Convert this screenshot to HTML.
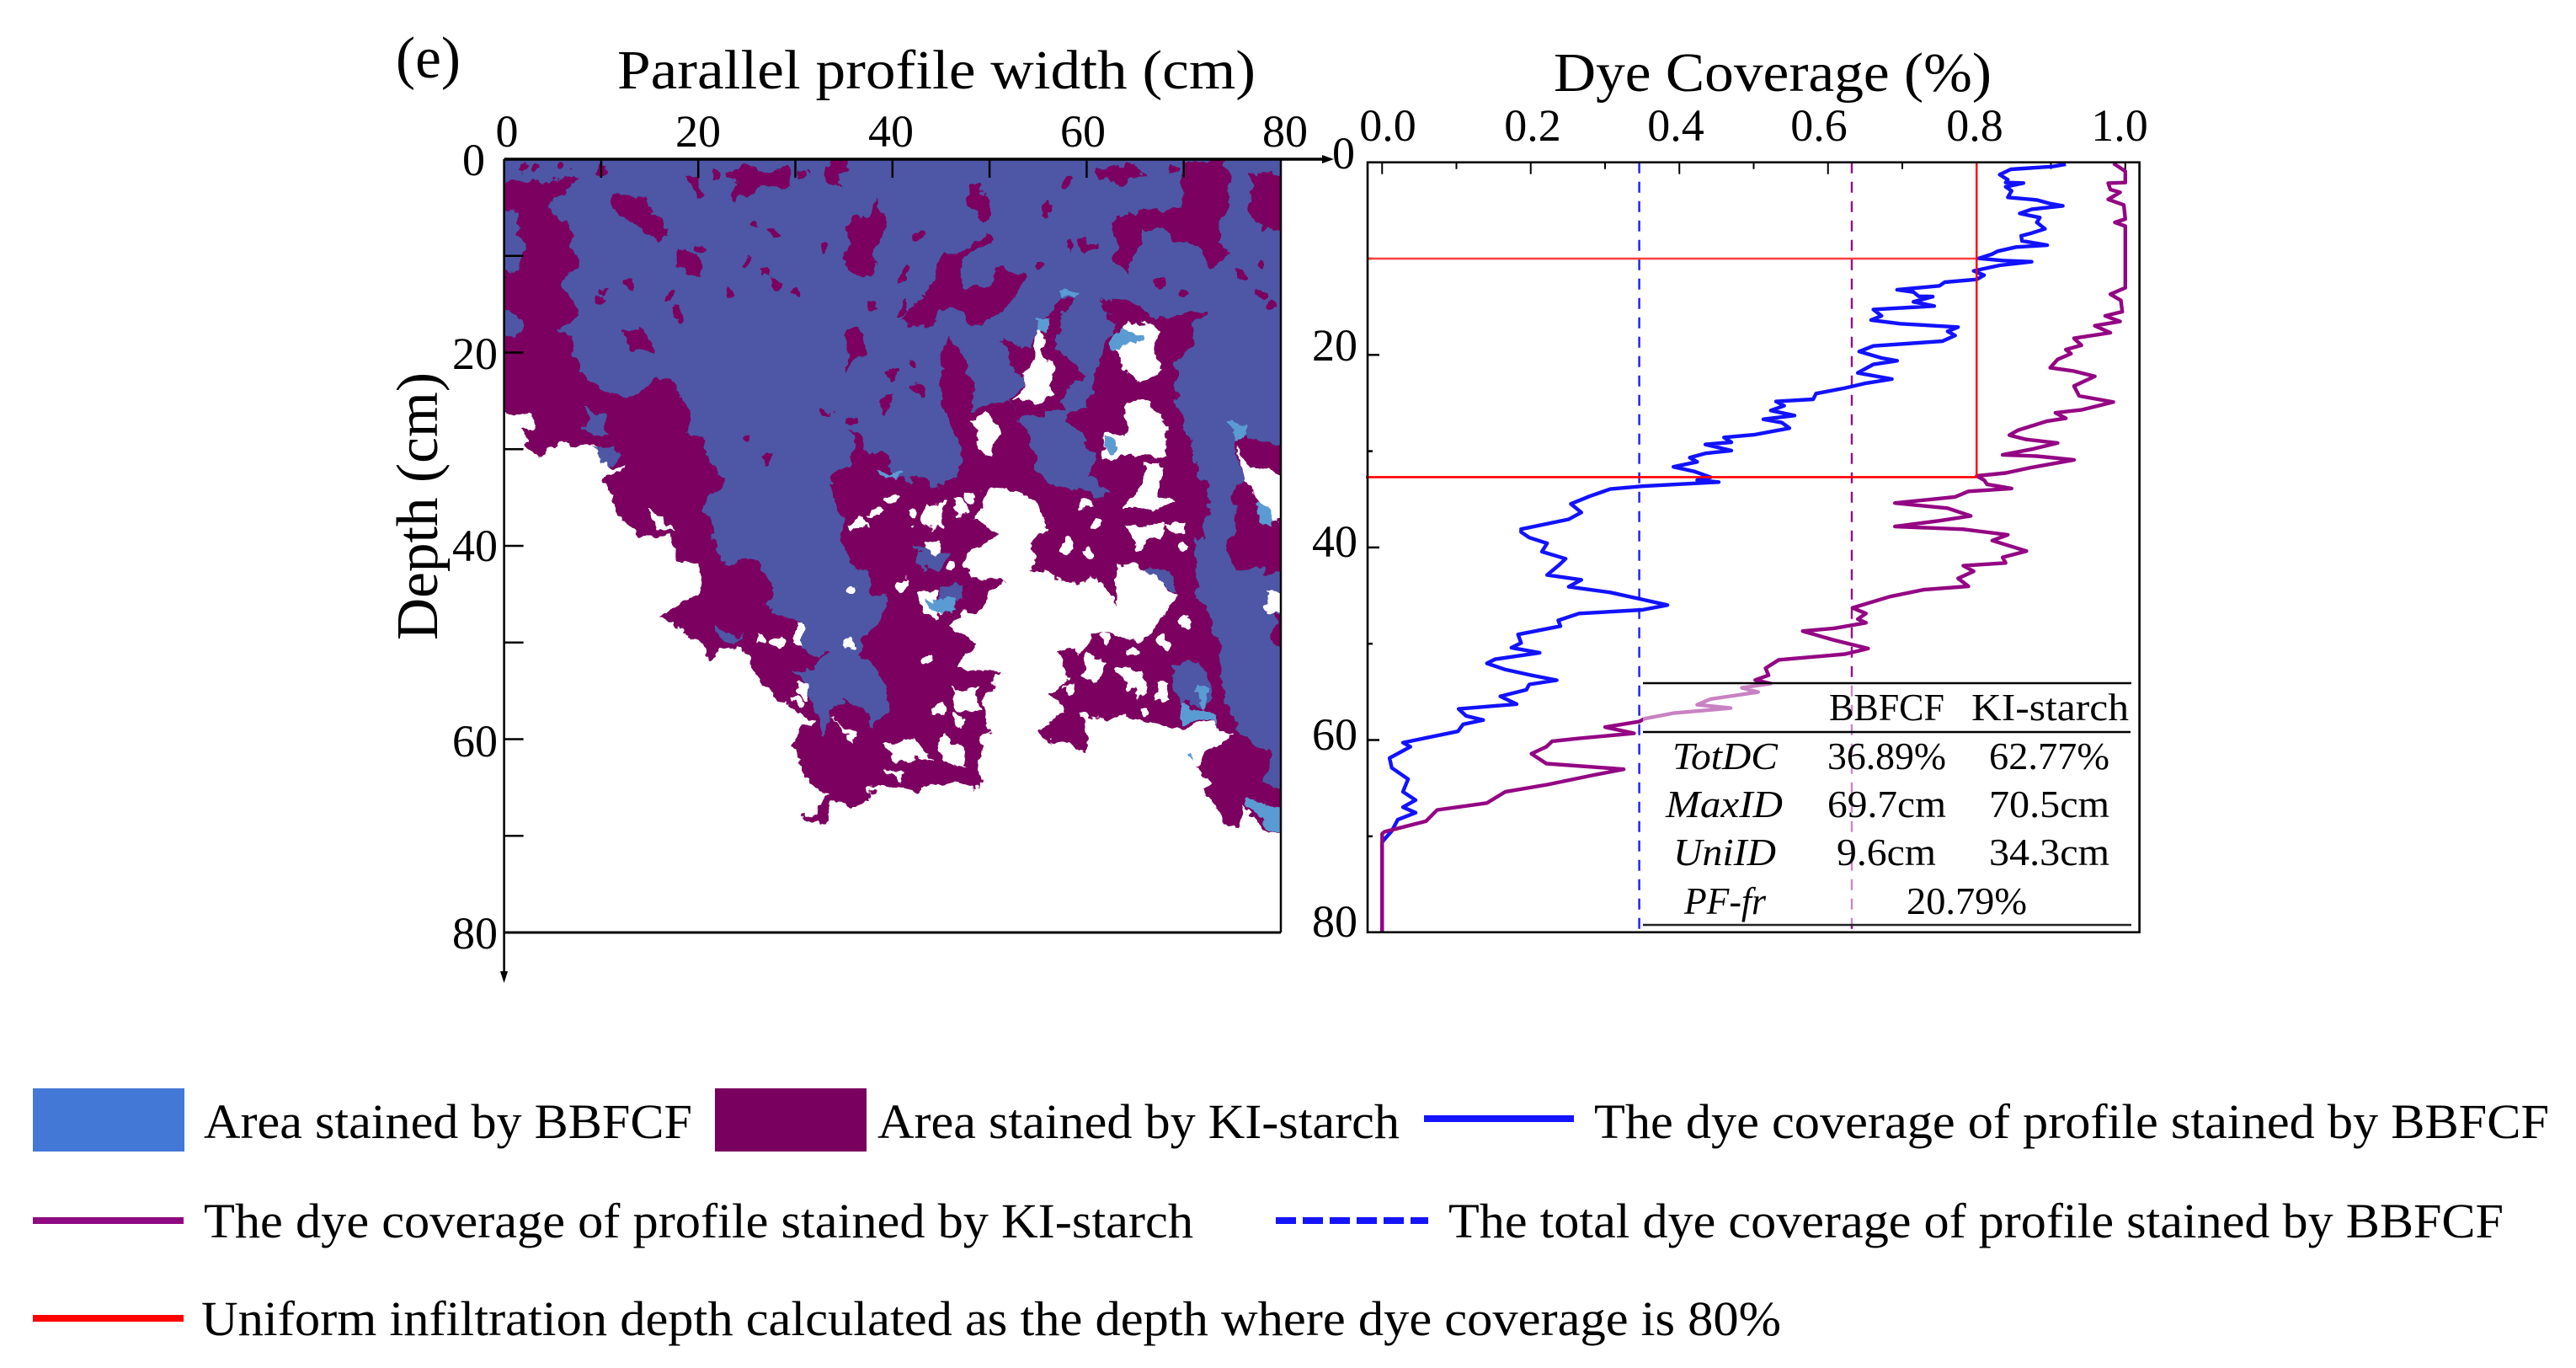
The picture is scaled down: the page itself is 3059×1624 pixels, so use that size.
<!DOCTYPE html>
<html>
<head>
<meta charset="utf-8">
<title>Dye coverage profile (e)</title>
<style>
html,body{margin:0;padding:0;background:#fff;width:3059px;height:1624px;overflow:hidden}
svg{display:block}
text{font-family:"Liberation Serif",serif;fill:#000}
.tick{font-size:54px}
.tbl{font-size:46px}
.lg{font-size:58px}
</style>
</head>
<body>
<svg id="fig" xmlns="http://www.w3.org/2000/svg" width="3059" height="1624" viewBox="0 0 3059 1624">
<rect x="0" y="0" width="3059" height="1624" fill="#fff"/>
<defs>
<clipPath id="mapClip"><rect x="598.6" y="189" width="922.4" height="918"/></clipPath>
<filter id="rough" filterUnits="userSpaceOnUse" x="560" y="150" width="1000" height="1000" color-interpolation-filters="sRGB">
<feTurbulence type="fractalNoise" baseFrequency="0.04" numOctaves="4" seed="7" result="n"/>
<feDisplacementMap in="SourceGraphic" in2="n" scale="26" xChannelSelector="R" yChannelSelector="G"/>
</filter>
</defs>
<g clip-path="url(#mapClip)"><g id="mapLayer" filter="url(#rough)"></g></g>
<g id="mapAxes"></g>
<g id="profile"></g>

<text x="470" y="92" font-size="70" textLength="77" lengthAdjust="spacingAndGlyphs">(e)</text>
<text x="733" y="105" font-size="66" textLength="758" lengthAdjust="spacingAndGlyphs">Parallel profile width (cm)</text>
<text x="1845" y="108" font-size="66" textLength="520" lengthAdjust="spacingAndGlyphs">Dye Coverage (%)</text>
<text transform="translate(519,760) rotate(-90)" font-size="70" textLength="318" lengthAdjust="spacingAndGlyphs">Depth (cm)</text>

<g class="tick" text-anchor="middle">
<text x="602" y="174">0</text>
<text x="829" y="174">20</text>
<text x="1058" y="174">40</text>
<text x="1286" y="174">60</text>
<text x="1526" y="174">80</text>
</g>
<g class="tick" text-anchor="end">
<text x="576" y="208">0</text>
<text x="591" y="438">20</text>
<text x="591" y="666">40</text>
<text x="591" y="898">60</text>
<text x="591" y="1126">80</text>
</g>
<g class="tick" text-anchor="middle">
<text x="1648" y="167">0.0</text>
<text x="1820" y="167">0.2</text>
<text x="1990" y="167">0.4</text>
<text x="2160" y="167">0.6</text>
<text x="2345" y="167">0.8</text>
<text x="2517" y="167">1.0</text>
</g>
<g class="tick" text-anchor="end">
<text x="1609" y="200">0</text>
<text x="1612" y="428">20</text>
<text x="1612" y="661">40</text>
<text x="1612" y="890">60</text>
<text x="1612" y="1112">80</text>
</g>

<g>
<rect x="1951" y="811" width="580" height="287" fill="#fff" fill-opacity="0.5"/>
<line x1="1951" x2="2531" y1="811" y2="811" stroke="#000" stroke-width="2.5"/>
<line x1="1951" x2="2530" y1="869" y2="869" stroke="#000" stroke-width="2.5"/>
<line x1="1951" x2="2531" y1="1098" y2="1098" stroke="#222" stroke-width="2.5"/>
<g class="tbl">
<text x="2172" y="855" textLength="137" lengthAdjust="spacingAndGlyphs">BBFCF</text>
<text x="2341" y="855" textLength="187" lengthAdjust="spacingAndGlyphs">KI-starch</text>
<text x="1986" y="913" font-style="italic" textLength="125" lengthAdjust="spacingAndGlyphs">TotDC</text>
<text x="2170" y="913" textLength="141" lengthAdjust="spacingAndGlyphs">36.89%</text>
<text x="2362" y="913" textLength="143" lengthAdjust="spacingAndGlyphs">62.77%</text>
<text x="1978" y="970" font-style="italic" textLength="139" lengthAdjust="spacingAndGlyphs">MaxID</text>
<text x="2170" y="970" textLength="141" lengthAdjust="spacingAndGlyphs">69.7cm</text>
<text x="2362" y="970" textLength="143" lengthAdjust="spacingAndGlyphs">70.5cm</text>
<text x="1987" y="1027" font-style="italic" textLength="122" lengthAdjust="spacingAndGlyphs">UniID</text>
<text x="2181" y="1027" textLength="118" lengthAdjust="spacingAndGlyphs">9.6cm</text>
<text x="2362" y="1027" textLength="143" lengthAdjust="spacingAndGlyphs">34.3cm</text>
<text x="2000" y="1085" font-style="italic" textLength="97" lengthAdjust="spacingAndGlyphs">PF-fr</text>
<text x="2264" y="1085" textLength="143" lengthAdjust="spacingAndGlyphs">20.79%</text>
</g>
</g>

<g>
<rect x="39" y="1292" width="180" height="75" fill="#4478d6"/>
<text class="lg" x="242" y="1351" textLength="580" lengthAdjust="spacingAndGlyphs">Area stained by BBFCF</text>
<rect x="849" y="1292" width="180" height="75" fill="#7a0060"/>
<text class="lg" x="1042" y="1351" textLength="620" lengthAdjust="spacingAndGlyphs">Area stained by KI-starch</text>
<line x1="1691" x2="1869" y1="1328" y2="1328" stroke="#1414ff" stroke-width="8"/>
<text class="lg" x="1893" y="1351" textLength="1134" lengthAdjust="spacingAndGlyphs">The dye coverage of profile stained by BBFCF</text>
<line x1="39" x2="218" y1="1449" y2="1449" stroke="#8f0a82" stroke-width="8"/>
<text class="lg" x="242" y="1469" textLength="1175" lengthAdjust="spacingAndGlyphs">The dye coverage of profile stained by KI-starch</text>
<line x1="1515" x2="1696" y1="1449" y2="1449" stroke="#1414ff" stroke-width="8" stroke-dasharray="24 8"/>
<text class="lg" x="1720" y="1469" textLength="1253" lengthAdjust="spacingAndGlyphs">The total dye coverage of profile stained by BBFCF</text>
<line x1="39" x2="218" y1="1565" y2="1565" stroke="#ff0000" stroke-width="8"/>
<text class="lg" x="239" y="1585" textLength="1876" lengthAdjust="spacingAndGlyphs">Uniform infiltration depth calculated as the depth where dye coverage is 80%</text>
</g>
</svg>

<script>
// ----- Coverage profile data (depth in cm, coverage as fraction) -----
const bbfcfDepth = [0.2,0.44,0.73,1.28,1.81,2.1,2.15,2.54,2.97,3.64,3.91,4.29,4.52,4.87,5.31,5.74,6.24,6.91,7.35,7.64,8.16,8.6,8.8,9.24,9.53,9.97,10.2,10.32,10.7,11.28,11.72,12.16,12.45,12.83,13.24,13.47,13.91,13.95,14.49,14.93,15.28,15.95,16.38,16.76,17.11,17.55,17.99,18.57,19.07,19.65,20.32,20.61,20.99,21.87,22.51,22.94,23.44,24.02,24.61,24.84,25.28,25.77,26.3,26.68,27.03,27.61,28.28,28.57,29.07,29.3,29.94,30.23,30.67,31.11,31.63,32.13,32.71,33.0,33.21,33.64,33.94,34.69,35.48,36.36,37.08,38.1,38.4,38.98,39.57,40.44,41.17,41.9,42.86,43.36,44.09,44.67,45.4,45.98,46.48,46.86,47.58,48.17,49.04,49.92,50.41,50.94,51.61,52.04,52.69,53.27,53.79,54.23,54.79,55.46,56.27,56.77,57.5,57.93,58.37,59.1,60.27,60.7,61.87,62.89,64.06,65.37,66.24,66.97,67.55,68.28,69.45,70.32,70.6,80];
const bbfcfCover = [.920,.902,.846,.831,.842,.839,.863,.839,.847,.842,.881,.899,.916,.874,.858,.885,.881,.892,.874,.860,.861,.895,.853,.828,.821,.803,.835,.874,.831,.796,.810,.800,.757,.750,.693,.715,.722,.741,.715,.743,.661,.672,.658,.697,.775,.761,.771,.754,.661,.642,.672,.693,.661,.640,.686,.651,.623,.584,.580,.530,.541,.523,.555,.513,.538,.548,.502,.460,.470,.435,.470,.435,.414,.424,.392,.421,.442,.424,.453,.350,.307,.279,.254,.268,.251,.187,.187,.198,.222,.215,.247,.237,.222,.268,.251,.307,.350,.384,.350,.265,.237,.240,.183,.187,.174,.212,.152,.141,.166,.201,.235,.198,.194,.159,.181,.103,.113,.136,.109,.102,.028,.038,.010,.013,.035,.028,.045,.028,.045,.021,.013,.003,0,0];
const kiDepth = [0.1,0.93,2.1,2.16,2.83,3.12,3.85,4.43,5.89,6.24,6.62,13.03,13.7,14.34,15.51,15.95,16.53,16.97,17.7,18.28,19.0,19.45,19.88,20.47,21.34,21.69,22.22,23.24,24.26,24.9,25.71,26.01,26.59,26.88,27.81,28.34,28.78,29.15,29.8,30.38,30.52,30.9,31.69,32.27,32.57,33.0,33.44,33.88,34.17,34.75,35.39,35.92,36.73,37.23,37.82,38.11,38.69,39.28,40.38,41.02,41.61,41.9,42.48,43.21,44.03,44.38,45.11,46.27,46.86,47.44,47.82,48.4,48.69,49.62,50.5,51.08,51.67,52.54,53.27,53.77,54.14,54.58,55.02,55.75,56.33,56.68,57.21,57.79,58.08,58.66,59.3,59.83,60.12,60.7,61.43,62.45,63.04,63.62,64.64,65.37,66.54,67.26,68.43,69.54,69.74,80];
const kiCover = [.984,1,1,.977,.980,.993,.977,.998,1,.986,1,1,.980,.994,.996,.973,.993,.959,.980,.931,.941,.920,.927,.909,.899,.931,.959,.931,.938,.984,.941,.906,.920,.895,.856,.844,.867,.909,.874,.835,.881,.931,.874,.839,.800,.810,.814,.847,.789,.771,.690,.761,.792,.750,.690,.782,.842,.821,.867,.835,.839,.782,.796,.775,.789,.729,.683,.633,.651,.640,.651,.608,.566,.608,.654,.623,.534,.516,.520,.502,.523,.484,.506,.442,.424,.469,.392,.353,.346,.300,.339,.265,.229,.221,.201,.221,.325,.286,.222,.166,.141,.074,.059,.003,0,0];
const totalCoverBBFCF = [0.346];
const totalCoverKI = [0.632];
const uniformCover = [0.8];
const uniformDepthBBFCF = [10];
const uniformDepthKI = [32.7];

// ----- Stain map regions: [width cm, depth cm] outlines -----
const stainExtent = [[0,0],[80,0],[80,70],[78.9,70.1],[76.1,66.8],[75.5,69.5],[74.2,68.8],[73.6,66.8],[72.1,65.5],[73,64.5],[71.1,62.8],[75.5,59.8],[74.2,58.5],[69.3,58.5],[64.3,58],[59.4,57.5],[60,60.8],[57.2,60.8],[55.3,58.8],[57.5,57.1],[56,55.5],[58.4,53.5],[57.2,51.1],[60,50.5],[60.3,49.1],[64.9,49.8],[68,47.5],[68.7,45.5],[66.2,42.1],[63.1,41.8],[63.1,46.1],[61.2,43.5],[58.7,43.5],[54.4,42.8],[54.1,40.5],[55.3,38.5],[56.3,38],[53.8,34],[50,34],[48.2,37.2],[51,38.8],[48.2,40.5],[47.6,43],[51.3,43.5],[49.4,45.5],[45.7,48.5],[48.2,50.5],[46.9,52.8],[51.6,52.8],[49.4,55.5],[49.8,59.1],[48.8,62.5],[48.8,65.1],[45.1,64.8],[40.1,65.1],[38,64.8],[37.4,66.8],[34,66.6],[33.6,69.1],[30.9,68],[33.3,66.1],[31.5,64.8],[30.5,62.8],[29.9,60.1],[31.8,57.8],[28.4,56.5],[25.9,53.5],[24.7,50.5],[21.2,51.3],[20.6,49.8],[16,47.5],[16.3,46.6],[20.3,45.5],[20.3,42.1],[17.8,41.5],[17.2,39.1],[13.5,38.8],[11.6,36.1],[10.1,33.5],[12.9,31.8],[11,31.8],[9.2,29.5],[6.7,29.3],[3.6,30.6],[1.7,28.5],[3.3,27.6],[2.7,26.1],[0,25.7]];

const bothDyesMain = [[0,0],[80,0],[80,66],[78,64.5],[79.2,61.5],[75.5,59.1],[74.2,56.5],[73.6,49.8],[71.1,44.1],[71.1,39.1],[71.1,38.4],[62.5,34.6],[56.9,34.2],[54.4,31.9],[51.3,32.7],[46.7,33.5],[40.1,33.1],[39.5,30.8],[35.8,28.5],[35.2,32.3],[33.6,33.5],[34.3,36.5],[34.9,37.8],[35.2,40.1],[37.7,44.1],[39.8,45.8],[37.7,48.5],[36.4,51.5],[39.5,54.8],[39.5,57.1],[38,58.8],[37.4,57.1],[35.2,55.8],[32.7,59.8],[32.1,55.8],[29.9,53.1],[33.3,51.5],[30.9,50.8],[30.9,48.8],[26.8,46.1],[27.4,43.8],[26.5,41.5],[22.2,41.5],[21.6,38.8],[20.6,36.1],[22.5,33.8],[21.6,31.6],[18.8,27.8],[18.8,25.5],[17.2,22.9],[15.4,22.7],[12.6,24.8],[8.6,22.9],[6.7,20.2],[7.3,18.7],[5.5,17.2],[7.9,16.1],[6.1,13],[7.3,10],[7.3,7.8],[4.8,5.5],[4.8,4],[7.9,2.3],[4.8,2.1],[0,2.8]];

const bothDyesPatches = [
 [[0,5],[1.5,5.5],[2,9],[1.5,11.5],[0,11]],
 [[0,15],[1.5,16],[1.2,18],[0,18.5]],
 [[42.7,40],[45.8,40.5],[44.5,42],[43,42.5]],
 [[45,44],[46.5,44],[47.5,46],[45.5,47]],
 [[8.2,25.9],[10,26.5],[11.3,28.5],[9.5,28.5]],
 [[8.9,29.7],[11.6,30],[11,31.8],[10,31.5]],
 [[21.6,48],[24.7,49.5],[24,50.5],[22,49.5]],
 [[69,52],[72,52],[73,56],[69.3,56.5]],
 [[66.2,42],[69,43],[68.7,45],[67,44]],
 [[71.1,39],[74,40],[76,44],[74,45],[72,44]],
 [[76.5,43],[78.5,42],[79,46],[77,46]]
];

const kiOnlyPatches = [
 [[70,.2],[74.2,.2],[74.5,4],[73.5,7],[74,9],[74.5,10],[73,11],[72,9.5],[69,8.5],[68,7],[66,7.2],[65,10],[64.5,12],[63,10],[62.5,6.5],[65,5.5],[68,5],[70,5]],
 [[77,1.5],[80,1],[80,7],[78,7.5],[77,5]],
 [[38.3,3.6],[39.2,7],[38.3,10.8],[37.7,12.3],[35.8,11.9],[34.9,10],[35.5,7],[37.1,5.9]],
 [[51.3,11.2],[53.8,12.3],[52.9,14.6],[50.7,16.1],[48.8,17.2],[45.1,15.3],[43.9,17.2],[42,17.6],[41.1,16.4],[43.9,13.4],[45.1,10],[48.2,8.9],[49.4,7.4],[50,8.5],[46.9,10.8],[47.3,13.4],[49.4,13.4]],
 [[46,18],[47.3,21],[48.2,23.6],[48.2,26.3],[51.9,25.1],[53.8,28.2],[55,31.9],[56.9,34.2],[51.3,34.2],[46.7,33.8],[47.3,30.4],[45.1,25.1],[45.1,21.4]],
 [[51,18.3],[54.4,19.5],[56.3,15.7],[57.5,14.6],[59,14.6],[56.8,17.6],[56.8,19.8],[59.4,22.1],[56.9,25.1],[57.5,26.3],[52.8,26.7],[51.9,24.8],[53.8,22.9],[51.9,20.6]],
 [[61.5,13.8],[66.8,16.4],[72.4,15.7],[71.1,17.6],[69.3,21.4],[69.3,25.1],[71.4,31.2],[72.7,36.5],[71.2,40],[62.5,40],[62.5,34.6],[60.5,33],[61,30.5],[59.5,28.5],[58,27],[60,25.5],[61,22],[61.5,20],[63,17],[62,15]],
 [[11.5,3.5],[14,4],[16,6],[17,8],[16,8.5],[13,6.5],[11,5]],
 [[18,9.5],[20,10],[20.5,12],[19,12.5],[17.5,11]],
 [[23,1],[29,1],[29.5,2.5],[28,3],[25,3],[24,4],[23.5,3]],
 [[19,2],[20,2],[20.3,3.5],[19.5,3.4]],
 [[48,2.5],[49.2,2.3],[50,5],[50.3,6],[49,6],[48,4]],
 [[12.7,17.6],[14.5,18],[15,20],[13.5,20.2],[13,19]],
 [[35.3,18],[37,18],[37.5,20],[36.3,21],[35.3,22.4]],
 [[38.7,24.5],[40,24.5],[39.5,26.5],[39,26.5]],
 [[61,1],[65,.5],[66,2],[62,3]],
 [[33.5,.3],[35,.3],[35,3],[34,2.5]],
 [[75,28.5],[80,30],[80,42],[77,43],[74.5,42],[75,37],[76,33]],
 [[79,47],[80,47.5],[80,51],[79.5,50]],
 [[40.5,15],[41.5,14.5],[41.5,16],[40.5,16]],
 [[26.5,11.5],[27.5,11.5],[27.5,12.5],[26.5,12.5]],
 [[27,7],[28,7],[28,8.5],[27,8.5]]
];

const unstainedHoles = [
 [[63,19],[65,16.5],[67.5,17.5],[67,21],[67.5,22],[65,23],[63.5,21]],
 [[55,17.5],[56,19],[56,21],[56.8,24],[55.5,25],[52.5,25],[54,22.5],[55,20]],
 [[48,27],[50,26.5],[51.2,28],[50.5,30.5],[49.5,30.5],[48.5,29]],
 [[64.5,25],[66.5,25],[68.8,28],[68.5,30.5],[65,30.8],[62,31],[61.8,28.5],[64,28]],
 [[66,31.5],[67.5,31.5],[67.7,34.5],[69,35.5],[67,36.3],[64,36],[65.5,34]],
 [[75.5,29.5],[76.5,31],[77.5,32],[80,33],[80,38],[78.5,37],[77,34],[76,33]],
 [[43.5,35.5],[45.5,35.5],[45,38.5],[43.5,38.5]],
 [[35.5,37.5],[37,37],[37.5,38],[36,38]],
 [[64,38],[68.5,37.5],[67.5,39.5],[65,40.2]],
 [[15,36.5],[17,37.5],[17.5,38.5],[16,38.3]],
 [[42.7,45],[45,44.5],[45,46.5],[44.5,47.5],[43,47]],
 [[60,51],[62,52],[61,54.5],[59,53.5]],
 [[63,52.5],[66,53],[65.5,55.5],[64,55]],
 [[67,54],[68.5,54],[68.5,56],[67,56]],
 [[39,60.5],[42,60],[44,62],[43,62.5],[40.5,62]],
 [[45,59.5],[46.5,60],[47.5,62.5],[46.5,63],[45,62]],
 [[46.5,54.5],[48.5,55],[49,57],[47,57]],
 [[39.5,63],[41,63.5],[41,64.5]],
 [[33.8,58],[36,59.5],[36,60.5]],
 [[78.5,45],[80,45],[80,47],[78.5,47]],
 [[30,48.5],[31,48.5],[31,50],[30,50]]
];

const bbfcfOnlyPatches = [
 [[57.6,13.6],[59,13.6],[59,14.4],[57.6,14.4]],
 [[55,16.5],[56.2,16.5],[56,18.3],[55,18]],
 [[62.5,18],[65.5,18],[65,19.5],[63,20]],
 [[74.2,27.4],[76.4,27.4],[75.6,29],[75,29]],
 [[62,29],[63,29],[63,30.5],[62,30.5]],
 [[39,32.5],[41,32.5],[40,33.5]],
 [[77.6,35.5],[79,36],[79.3,38],[78,37.5]],
 [[43.5,45.5],[46.5,46],[46.8,47],[44,46.5]],
 [[69.5,56.5],[72,56.5],[74,58.5],[72,58.3],[70,58]],
 [[71,54.5],[72.5,55],[72,56.5]],
 [[70.5,61],[71,61],[71,62]],
 [[76.5,66],[78,66.5],[80,67.5],[80,70],[78.9,70],[78,68],[76.5,67]]
];

// Small isolated specks: [width cm, depth cm]
const kiSpecks = [[2,.7],[3.5,1],[6,.8],[10,1],[22,1.5],[31,1.5],[33,9],[26,6.5],[25,10],[30,14],[20,9],[23,14],[28,13],[17,14],[18,16],[13,13],[10,14],[41,12],[43,8],[56,5],[58,9],[55,11],[60,9],[67,13],[70,14],[76,12],[78,14],[78,11],[79,15],[40,22],[42,21],[43,24],[38,15],[36,27],[33,26],[25,29],[27,31],[69,1],[58,2]];
const unstainedSpecks = [[38,36.5],[40,35],[42,37],[47,36],[48,35],[60,36],[61,38],[69,38],[70,40],[36,45],[41,44],[35.5,50],[30,56],[31,55],[26.5,49.5],[28,50],[44,52],[45,57],[47,58],[58,55],[62,50],[65,51],[68,50],[70,48],[66,57],[44,40],[46,42],[58,40],[60,41]];

// ----- Tick values -----
const mapTicks = [10,20,30,40,50,60,70];
const coverTicks = [0,0.1,0.2,0.3,0.4,0.5,0.6,0.7,0.8,0.9,1.0];
const coverMajorTicks = [0,0.2,0.4,0.6,0.8,1.0];
const depthTicks = [10,20,30,40,50,60,70];
const depthMajorTicks = [20,40,60];

// ----- Axis functions -----
function mapX(v){ return 598.6 + v * 11.53; }
function mapY(v){ return 189 + v * 11.475; }
function covX(v){ return 1641.25 + v * 882.5; }
function depY(v){ return 192.7 + v * 11.43; }

const NS = 'http://www.w3.org/2000/svg';
function mk(parent, tag, props){
  const el = document.createElementNS(NS, tag);
  for (const k in props) el.setAttribute(k, props[k]);
  parent.appendChild(el);
  return el;
}
// Edge points bleed past the frame so the roughening filter leaves no gaps.
function edgeX(v){ return v <= 0 ? mapX(0) - 20 : v >= 80 ? mapX(80) + 20 : mapX(v); }
function edgeY(v){ return v <= 0 ? mapY(0) - 20 : mapY(v); }
function outline(pts){
  return pts.map(function(p){ return edgeX(p[0]).toFixed(1) + ',' + edgeY(p[1]).toFixed(1); }).join(' ');
}

const mapLayer = document.getElementById('mapLayer');
const mapAxes = document.getElementById('mapAxes');
const profile = document.getElementById('profile');

// ----- Stain map -----
let region = mk(mapLayer, 'polygon', {points: outline(stainExtent), fill: '#7b005f'});


region = mk(mapLayer, 'polygon', {points: outline(bothDyesMain), fill: '#4d57a5'});


kiOnlyPatches.forEach(function(p){
  const el = mk(mapLayer, 'polygon', {points: outline(p), fill: '#7b005f'});
  
  
});
kiSpecks.forEach(function(p){
  const el = mk(mapLayer, 'circle', {cx: mapX(p[0]), cy: mapY(p[1]), r: 6, fill: '#7b005f'});
  
  
});
bothDyesPatches.forEach(function(p){
  const el = mk(mapLayer, 'polygon', {points: outline(p), fill: '#4d57a5'});
  
  
});
unstainedHoles.forEach(function(p){
  const el = mk(mapLayer, 'polygon', {points: outline(p), fill: '#ffffff'});
  
  
});
unstainedSpecks.forEach(function(p){
  const el = mk(mapLayer, 'circle', {cx: mapX(p[0]), cy: mapY(p[1]), r: 7, fill: '#ffffff'});
  
  
});
bbfcfOnlyPatches.forEach(function(p){
  const el = mk(mapLayer, 'polygon', {points: outline(p), fill: '#5b9bd3'});
  
  
});

// ----- Map axes -----
let ln = mk(mapAxes, 'line', {x1: mapX(0), x2: 1575, y1: mapY(0), y2: mapY(0), stroke: '#000', 'stroke-width': 3.5});


ln = mk(mapAxes, 'polygon', {points: '1584,189 1570,184 1570,194', fill: '#000'});


ln = mk(mapAxes, 'line', {x1: mapX(0), x2: mapX(0), y1: mapY(0), y2: 1155, stroke: '#000', 'stroke-width': 2.5});


ln = mk(mapAxes, 'polygon', {points: '598.6,1167 594,1153 603,1153', fill: '#000'});


ln = mk(mapAxes, 'line', {x1: mapX(80), x2: mapX(80), y1: mapY(0), y2: mapY(80), stroke: '#000', 'stroke-width': 2.5});


ln = mk(mapAxes, 'line', {x1: mapX(0), x2: mapX(80), y1: mapY(80), y2: mapY(80), stroke: '#000', 'stroke-width': 3});


mapTicks.forEach(function(t){
  const a = mk(mapAxes, 'line', {x1: mapX(t), x2: mapX(t), y1: mapY(0), y2: mapY(0) + 22, stroke: '#000', 'stroke-width': 2.5});
  
  
  const b = mk(mapAxes, 'line', {x1: mapX(0), x2: mapX(0) + 23, y1: mapY(t), y2: mapY(t), stroke: '#000', 'stroke-width': 2.5});
  
  
});

// ----- Profile panel -----
coverTicks.forEach(function(t){
  const major = coverMajorTicks.indexOf(t) >= 0;
  const a = mk(profile, 'line', {x1: covX(t), x2: covX(t), y1: depY(0), y2: depY(0) + (major ? 14 : 8), stroke: '#000', 'stroke-width': 2});
  
  
});
depthTicks.forEach(function(t){
  const major = depthMajorTicks.indexOf(t) >= 0;
  const a = mk(profile, 'line', {x1: 1624, x2: 1624 + (major ? 14 : 6), y1: depY(t), y2: depY(t), stroke: '#000', 'stroke-width': 2.5});
  
  
});

let refl = mk(profile, 'line', {x1: covX(totalCoverBBFCF[0]), x2: covX(totalCoverBBFCF[0]), y1: depY(0), y2: depY(80), stroke: '#1a1aff', 'stroke-width': 2.4, 'stroke-dasharray': '13 10'});


refl = mk(profile, 'line', {x1: covX(totalCoverKI[0]), x2: covX(totalCoverKI[0]), y1: depY(0), y2: depY(80), stroke: '#93108a', 'stroke-width': 2.4, 'stroke-dasharray': '13 10'});



function curvePath(ds, vs){
  return ds.map(function(d, i){ return (i ? 'L' : 'M') + covX(vs[i]).toFixed(1) + ' ' + depY(d).toFixed(1); }).join(' ');
}
let curve = mk(profile, 'path', {d: curvePath(bbfcfDepth, bbfcfCover), fill: 'none', stroke: '#1212ff', 'stroke-width': 4.4, 'stroke-linejoin': 'round'});


curve = mk(profile, 'path', {d: curvePath(kiDepth, kiCover), fill: 'none', stroke: '#930583', 'stroke-width': 4.4, 'stroke-linejoin': 'round'});



refl = mk(profile, 'line', {x1: 1624, x2: covX(uniformCover[0]), y1: depY(uniformDepthBBFCF[0]), y2: depY(uniformDepthBBFCF[0]), stroke: '#ff4040', 'stroke-width': 2.4});


refl = mk(profile, 'line', {x1: 1622, x2: covX(uniformCover[0]), y1: depY(uniformDepthKI[0]), y2: depY(uniformDepthKI[0]), stroke: '#ff0000', 'stroke-width': 2.6});


refl = mk(profile, 'line', {x1: covX(uniformCover[0]), x2: covX(uniformCover[0]), y1: depY(0), y2: depY(uniformDepthKI[0]), stroke: '#ff0000', 'stroke-width': 2.4});



let frame = mk(profile, 'rect', {x: 1624, y: depY(0), width: 916.6, height: 914, fill: 'none', stroke: '#000', 'stroke-width': 2.6});


</script>
</body>
</html>
